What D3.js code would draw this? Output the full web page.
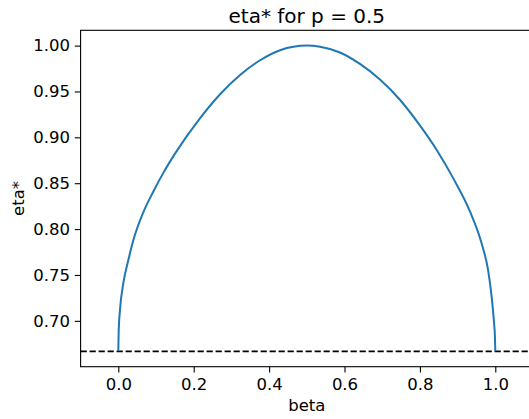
<!DOCTYPE html>
<html>
<head>
<meta charset="utf-8">
<script src="https://cdn.jsdelivr.net/npm/d3@7"></script>
<style>
  body { margin: 0; background: #fff; }
  svg { display: block; font-family: "DejaVu Sans", sans-serif; }
</style>
</head>
<body>
<svg id="chart" width="529" height="419"></svg>
<script>
// values
const beta = [0, 0.001, 0.0045, 0.0133, 0.0265, 0.040, 0.066, 0.093, 0.119, 0.150,
  0.217, 0.270, 0.323, 0.376, 0.429, 0.500, 0.535, 0.588, 0.641, 0.694, 0.747,
  0.800, 0.845, 0.889, 0.933, 0.964, 0.981, 0.9905, 0.9966, 0.999, 1.0];
const eta = [0.667, 0.688, 0.712, 0.741, 0.766, 0.788, 0.818, 0.841, 0.861, 0.882,
  0.921, 0.947, 0.968, 0.984, 0.995, 1.000, 0.9988, 0.9925, 0.980, 0.963, 0.941,
  0.913, 0.886, 0.855, 0.819, 0.784, 0.755, 0.7255, 0.698, 0.683, 0.667];
const baseline = 2 / 3;
const xTicks = [0, 0.2, 0.4, 0.6, 0.8, 1.0];
const yTicks = [0.70, 0.75, 0.80, 0.85, 0.90, 0.95, 1.00];

const margin = { left: 80.6, right: 533, top: 30.3, bottom: 366.7 };
const fontSize = "16.5px";

const svg = d3.select("#chart");

const x = d3.scaleLinear().domain([-0.1, 1.1]).range([margin.left, margin.right]);
const y = d3.scaleLinear().domain([0.65, 1.01667]).range([margin.bottom, margin.top]);

// dashed reference line
svg.append("line")
    .attr("x1", x(-0.1)).attr("x2", x(1.1))
    .attr("y1", y(baseline)).attr("y2", y(baseline))
    .attr("stroke", "#000")
    .attr("stroke-width", 1.8)
    .attr("stroke-dasharray", "6.2,2.8");

const line = d3.line()
    .x((d, i) => x(beta[i]))
    .y(d => y(d))
    .curve(d3.curveMonotoneX);

svg.append("path")
    .datum(eta)
    .attr("fill", "none")
    .attr("stroke", "#1f77b4")
    .attr("stroke-width", 2)
    .attr("d", line);

// frame
svg.append("rect")
    .attr("x", margin.left).attr("y", margin.top)
    .attr("width", margin.right - margin.left).attr("height", margin.bottom - margin.top)
    .attr("fill", "none")
    .attr("stroke", "#000")
    .attr("stroke-width", 1.1);

const xAxis = svg.append("g")
    .attr("transform", `translate(0,${margin.bottom})`)
    .call(d3.axisBottom(x).tickValues(xTicks).tickFormat(d3.format(".1f"))
      .tickSize(5.8).tickPadding(5.8));

const yAxis = svg.append("g")
    .attr("transform", `translate(${margin.left},0)`)
    .call(d3.axisLeft(y).tickValues(yTicks).tickFormat(d3.format(".2f"))
      .tickSize(5.8).tickPadding(4.8));

[xAxis, yAxis].forEach(g => {
  g.select(".domain").remove();
  g.selectAll(".tick line").attr("stroke", "#000").attr("stroke-width", 1.1);
  g.selectAll(".tick text")
      .attr("fill", "#000")
      .style("font-family", "DejaVu Sans")
      .style("font-size", fontSize);
});

const midX = (margin.left + margin.right) / 2;
const midY = (margin.top + margin.bottom) / 2;

svg.append("text")
    .attr("x", midX)
    .attr("y", 411)
    .attr("text-anchor", "middle")
    .style("font-size", fontSize)
    .text("beta");

svg.append("text")
    .attr("transform", `translate(24,${midY}) rotate(-90)`)
    .attr("text-anchor", "middle")
    .style("font-size", fontSize)
    .text("eta*");

svg.append("text")
    .attr("x", midX)
    .attr("y", 22.7)
    .attr("text-anchor", "middle")
    .style("font-size", "20px")
    .text("eta* for p = 0.5");
</script>
</body>
</html>
